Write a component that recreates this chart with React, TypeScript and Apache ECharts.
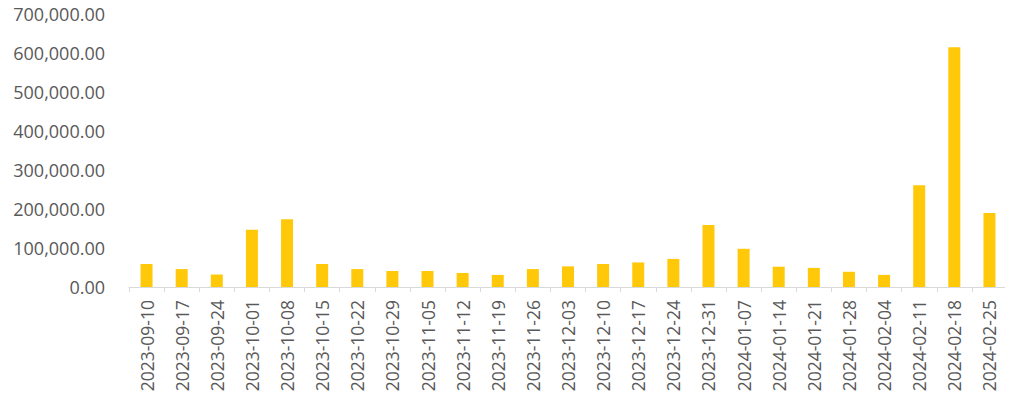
import React, { useEffect, useRef } from "react";
import * as echarts from "echarts";

const categories = [
  "2023-09-10", "2023-09-17", "2023-09-24", "2023-10-01", "2023-10-08",
  "2023-10-15", "2023-10-22", "2023-10-29", "2023-11-05", "2023-11-12",
  "2023-11-19", "2023-11-26", "2023-12-03", "2023-12-10", "2023-12-17",
  "2023-12-24", "2023-12-31", "2024-01-07", "2024-01-14", "2024-01-21",
  "2024-01-28", "2024-02-04", "2024-02-11", "2024-02-18", "2024-02-25",
];

const values = [
  59000, 46000, 32000, 147000, 174000,
  59000, 46000, 41000, 41000, 36000,
  31000, 46000, 53000, 59000, 63000,
  72000, 159000, 98000, 52000, 49000,
  39000, 31000, 261000, 615000, 190000,
];

const yMin = 0;
const yMax = 700000;
const yInterval = 100000;

const fmt = (v: number) =>
  v.toLocaleString("en-US", { minimumFractionDigits: 2, maximumFractionDigits: 2 });

export default function App() {
  const ref = useRef<HTMLDivElement>(null);
  useEffect(() => {
    if (!ref.current) return;
    const chart = echarts.init(ref.current, undefined, { renderer: "svg" });
    const font = "'Open Sans', sans-serif";
    chart.setOption({
      animation: false,
      backgroundColor: "#ffffff",
      grid: { left: 129, right: 6, top: 14, bottom: 114, containLabel: false },
      xAxis: {
        type: "category",
        data: categories,
        boundaryGap: true,
        axisLine: { show: true, lineStyle: { color: "#d9d9d9", width: 1 } },
        axisTick: { show: true, length: 5, alignWithLabel: false, lineStyle: { color: "#d9d9d9" } },
        axisLabel: {
          rotate: 90,
          interval: 0,
          margin: 13,
          color: "#595959",
          fontSize: 17.5,
          fontFamily: font,
        },
      },
      yAxis: {
        type: "value",
        min: yMin,
        max: yMax,
        interval: yInterval,
        axisLine: { show: false },
        axisTick: { show: false },
        splitLine: { show: false },
        axisLabel: {
          margin: 24,
          color: "#595959",
          fontSize: 18,
          fontFamily: font,
          formatter: (v: number) => fmt(v),
        },
      },
      series: [
        {
          type: "bar",
          data: values,
          barWidth: 12,
          itemStyle: { color: "#FFC90A" },
        },
      ],
    });
    return () => chart.dispose();
  }, []);
  return <div ref={ref} style={{ width: 1013, height: 401, margin: -8 }} />;
}
